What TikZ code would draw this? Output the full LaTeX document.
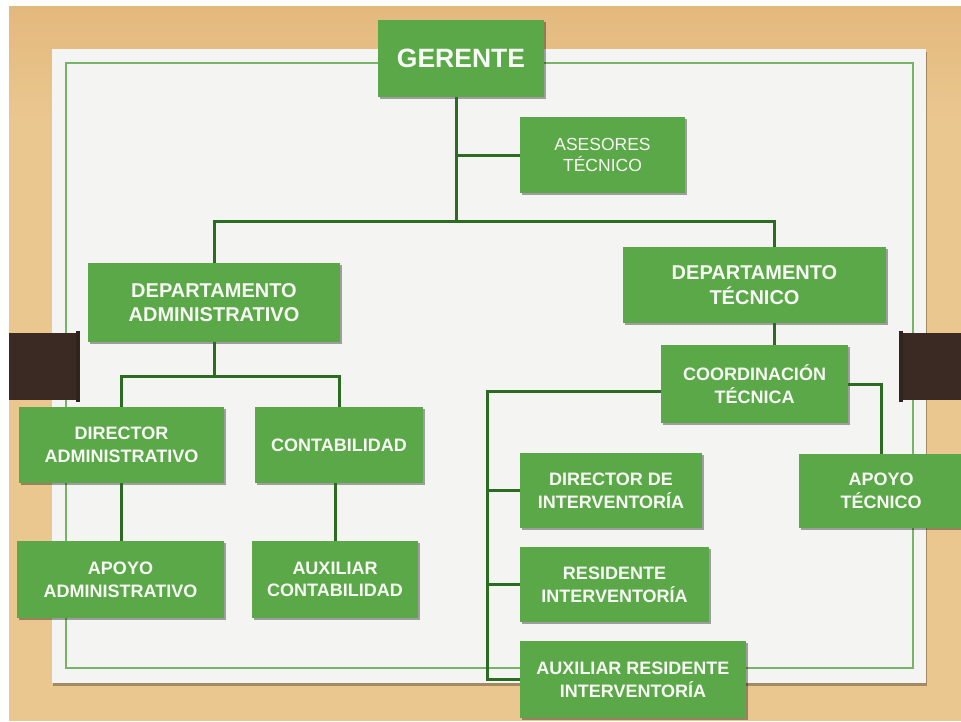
\documentclass[tikz,border=0pt]{standalone}
\usepackage{fontspec}
\setmainfont{Liberation Sans}
\usetikzlibrary{shadows}
\definecolor{wood}{RGB}{234,199,143}
\definecolor{woodtop}{RGB}{225,180,120}
\definecolor{board}{RGB}{244,244,243}
\definecolor{frame}{RGB}{120,180,104}
\definecolor{boxgreen}{RGB}{91,168,72}
\definecolor{linkgreen}{RGB}{44,108,34}
\definecolor{clipbrown}{RGB}{58,42,35}
\definecolor{boxtext}{RGB}{248,250,245}
\tikzset{
  orgbox/.style={fill=boxgreen, text=boxtext, inner sep=0pt, align=center,
    font=\bfseries\fontsize{18}{22.7}\selectfont,
    drop shadow={shadow xshift=1.5pt, shadow yshift=-2pt, opacity=0.35, fill=black}},
  bigtext/.style={font=\bfseries\fontsize{20}{24.3}\selectfont},
  link/.style={draw=linkgreen, line width=3pt},
}
\begin{document}
\begin{tikzpicture}[x=1pt, y=-1pt]
\useasboundingbox (0,0) rectangle (961,721);
% background
\fill[wood] (0,0) rectangle (961,721);
\shade[top color=woodtop, bottom color=wood, opacity=0.8] (0,0) rectangle (961,120);
\fill[white] (0,0) rectangle (961,6);
\fill[white] (0,0) rectangle (9,721);
% board
\fill[board, drop shadow={shadow xshift=1pt, shadow yshift=-3pt, opacity=0.3, fill=black}] (52,49) rectangle (926,683);
\draw[frame, line width=2.5pt] (66,63) rectangle (913,668);
% clips
\fill[clipbrown] (9,333) rectangle (77,400);
\fill[clipbrown!85!black] (76,331) rectangle (80,402);
\fill[clipbrown] (903,333) rectangle (961,400);
\fill[clipbrown!85!black] (899,331) rectangle (903,402);
% connector coordinates
\coordinate (bus) at (456,221);
\coordinate (tr) at (774,221);
\coordinate (ab) at (214,376);
\coordinate (vx) at (487,391);
% boxes
\node[orgbox, minimum width=166pt, minimum height=77pt, font=\bfseries\fontsize{26.5}{30}\selectfont] (ger) at (461,58.5) {GERENTE};
\node[orgbox, minimum width=165pt, minimum height=76pt, font=\fontsize{17.5}{21.7}\selectfont] (ases) at (602.5,155) {ASESORES\\TÉCNICO};
\node[orgbox, bigtext, minimum width=252pt, minimum height=79pt] (da) at (214,302.5) {DEPARTAMENTO\\ADMINISTRATIVO};
\node[orgbox, bigtext, minimum width=263pt, minimum height=76pt] (dt) at (754.5,285) {DEPARTAMENTO\\TÉCNICO};
\node[orgbox, minimum width=205pt, minimum height=76pt] (dira) at (121.5,445) {DIRECTOR\\ADMINISTRATIVO};
\node[orgbox, minimum width=168pt, minimum height=76pt] (cont) at (339,445) {CONTABILIDAD};
\node[orgbox, minimum width=207pt, minimum height=77pt] (apa) at (120.5,579.5) {APOYO\\ADMINISTRATIVO};
\node[orgbox, minimum width=166pt, minimum height=77pt] (auxc) at (335,579.5) {AUXILIAR\\CONTABILIDAD};
\node[orgbox, minimum width=187pt, minimum height=78pt] (coord) at (754.5,384) {COORDINACIÓN\\TÉCNICA};
\node[orgbox, minimum width=182pt, minimum height=75pt] (dirint) at (611,490.5) {DIRECTOR DE\\INTERVENTORÍA};
\node[orgbox, minimum width=189pt, minimum height=75pt] (resint) at (614.5,584.5) {RESIDENTE\\INTERVENTORÍA};
\node[orgbox, minimum width=226pt, minimum height=77pt] (auxr) at (633,679.5) {AUXILIAR RESIDENTE\\INTERVENTORÍA};
\node[orgbox, minimum width=164pt, minimum height=74pt] (apt) at (881,491) {APOYO\\TÉCNICO};
% connectors
\draw[link] (ger.south -| bus) -- (bus);
\draw[link] (bus |- ases.west) -- (ases.west);
\draw[link] (da.north) |- (tr) -- (tr |- dt.north);
\draw[link] (tr |- dt.south) -- (tr |- coord.north);
\draw[link] (da.south) -- (ab);
\draw[link] (dira.north) |- (ab) -| (cont.north);
\draw[link] (dira.south) -- (dira.south |- apa.north);
\draw[link] (auxc.north |- cont.south) -- (auxc.north);
\draw[link] (coord.west |- vx) -- (vx) |- (auxr.west);
\draw[link] (vx |- dirint.west) -- (dirint.west);
\draw[link] (vx |- resint.west) -- (resint.west);
\draw[link] (coord.east) -| (apt.north);
\end{tikzpicture}
\end{document}
